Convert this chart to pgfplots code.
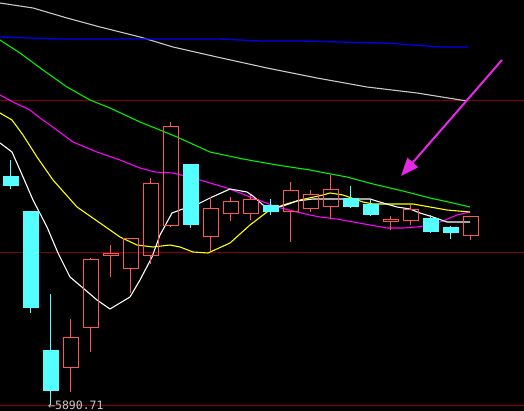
\documentclass[border=0pt]{standalone}
\usepackage{pgfplots}
\pgfplotsset{compat=1.18}
\usepgfplotslibrary{statistics}
\usetikzlibrary{arrows.meta}
\usepackage{fontspec}
\newfontfamily\monofont{DejaVu Sans Mono}
\definecolor{upc}{RGB}{255,85,85}
\definecolor{downc}{RGB}{85,255,255}
\definecolor{maw}{RGB}{255,255,255}
\definecolor{may}{RGB}{255,255,0}
\definecolor{mam}{RGB}{255,0,255}
\definecolor{mag}{RGB}{0,240,0}
\definecolor{magray}{RGB}{200,200,200}
\definecolor{mab}{RGB}{0,0,240}
\definecolor{gridred}{RGB}{130,0,0}
\definecolor{arrowc}{RGB}{230,40,230}
\definecolor{labelgray}{RGB}{200,200,200}
% x, high, body top, body bottom, low (screen units, y downwards)
\newcommand{\upcandle}[5]{\addplot[draw=upc, line width=1pt, boxplot prepared={draw direction=y, draw position=#1, lower whisker=#2, lower quartile=#3, median=#3, upper quartile=#4, upper whisker=#5, box extend=15, whisker extend=0}] coordinates {};}
\newcommand{\downcandle}[5]{\addplot[draw=downc, fill=downc, line width=1pt, boxplot prepared={draw direction=y, draw position=#1, lower whisker=#2, lower quartile=#3, median=#3, upper quartile=#4, upper whisker=#5, box extend=15, whisker extend=0}] coordinates {};}
\begin{document}
\begin{tikzpicture}
\begin{axis}[x=1pt, y=1pt, xmin=0, xmax=524, ymin=0, ymax=411, y dir=reverse,
  axis line style={draw=none}, ticks=none, scale only axis,
  axis background/.style={fill=black}]
% reference lines
\addplot[gridred, line width=1pt] coordinates {(0,100.5) (524,100.5)};
\addplot[gridred, line width=1pt] coordinates {(0,252.5) (524,252.5)};
\addplot[gridred, line width=1pt] coordinates {(0,405.5) (524,405.5)};
% moving averages
\addplot[magray, line width=1.1pt] coordinates {(0,3)(33,8)(67,18)(100,27)(140,37)(173,47)(217,57)(267,68)(317,78)(367,87)(417,93)(467,101)};
\addplot[mab, line width=1.3pt] coordinates {(0,37)(60,39)(140,39)(220,39)(260,41)(300,41)(340,42)(380,43)(400,44)(440,47)(468,47)};
\addplot[mag, line width=1.1pt] coordinates {(0,40)(20,53)(43,70)(67,87)(90,100)(110,108)(140,122)(160,130)(177,137)(210,152)(243,159)(277,165)(310,170)(320,172)(347,177)(373,184)(403,191)(430,198)(453,203)(470,207)};
\addplot[mam, line width=1.1pt] coordinates {(0,95)(13,102)(30,110)(40,118)(50,125)(73,142)(97,152)(120,160)(140,168)(155,172)(173,173)(193,178)(227,188)(253,198)(277,207)(293,211)(310,215)(320,217)(337,219)(353,222)(370,225)(387,228)(403,228)(417,227)(430,225)(443,221)(457,215)(470,212)};
\addplot[may, line width=1.1pt] coordinates {(0,113)(12,120)(23,135)(37,157)(53,180)(77,207)(100,223)(120,237)(137,245)(153,247)(170,245)(180,247)(193,252)(208,253)(230,243)(250,225)(267,212)(283,205)(300,200)(323,195)(330,193)(343,195)(363,202)(373,204)(413,204)(430,207)(447,210)(470,212)};
\addplot[maw, line width=1.1pt] coordinates {(0,143)(12,152)(20,170)(33,200)(47,227)(58,253)(70,277)(83,288)(97,300)(110,309)(130,297)(140,280)(152,257)(160,235)(172,213)(180,210)(200,203)(210,198)(230,189)(247,192)(253,196)(263,205)(270,208)(283,206)(297,201)(313,199)(340,199)(370,199)(383,203)(397,207)(410,209)(420,213)(433,217)(447,222)(470,222)};
% candles
\downcandle{10.5}{160}{177}{186}{189}
\downcandle{30.5}{211}{212}{307}{313}
\downcandle{50.5}{294}{350}{390}{405}
\upcandle{70.5}{319}{337}{367}{392}
\upcandle{90.5}{258}{260}{327}{352}
\upcandle{110.5}{245}{254}{256}{277}
\upcandle{130.5}{238}{239}{269}{293}
\upcandle{150.5}{178}{184}{256}{264}
\upcandle{170.5}{122}{127}{226}{227}
\downcandle{190.5}{165}{165}{225}{228}
\upcandle{210.5}{197}{209}{237}{251}
\upcandle{230.5}{197}{202}{214}{221}
\upcandle{250.5}{195}{200}{214}{220}
\downcandle{270.5}{199}{206}{212}{215}
\upcandle{290.5}{182}{191}{212}{242}
\upcandle{310.5}{190}{195}{209}{212}
\upcandle{330.5}{175}{190}{207}{219}
\downcandle{350.5}{186}{199}{207}{208}
\downcandle{370.5}{200}{205}{215}{216}
\upcandle{390.5}{216}{220}{222}{230}
\upcandle{410.5}{205}{210}{221}{225}
\downcandle{430.5}{215}{219}{232}{233}
\downcandle{450.5}{226}{228}{233}{239}
\upcandle{470.5}{217}{217}{236}{240}
% annotation arrow
\addplot[arrowc, line width=2pt, -{Triangle[length=18pt,width=14pt]}] coordinates {(502,60) (401,176)};
\node[anchor=west, inner sep=0pt, text=labelgray, font=\monofont\fontsize{11.5}{11.5}\selectfont] at (axis cs:48,405.5) {←5890.71};
\end{axis}
\end{tikzpicture}
\end{document}
